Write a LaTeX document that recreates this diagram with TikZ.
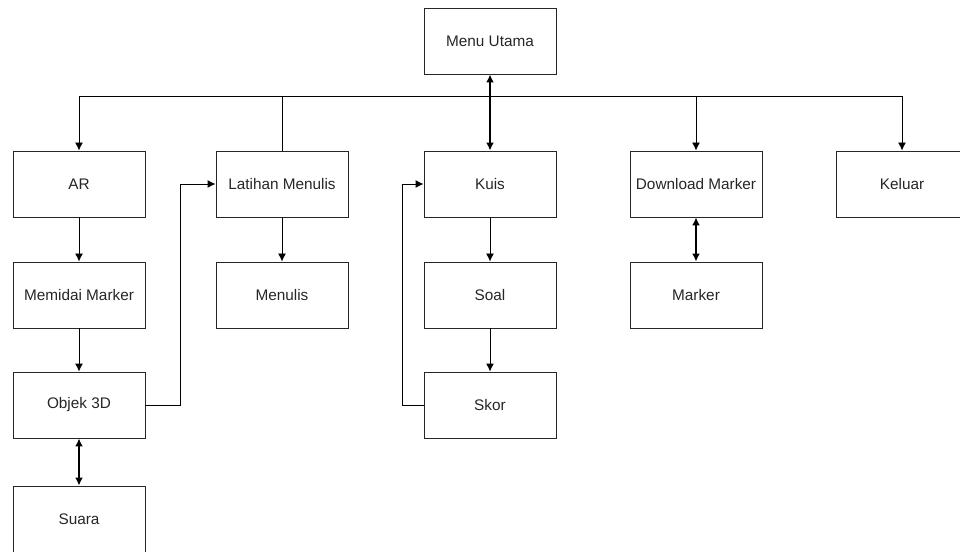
\documentclass[tikz,border=0pt]{standalone}
\usepackage{fontspec}
\setmainfont{Liberation Sans}
\usetikzlibrary{calc,arrows.meta}

\tikzset{
  blok/.style={draw=black!85, rectangle, minimum width=99pt, minimum height=49.5pt,
    inner sep=0pt, font=\fontsize{11.5}{13}\selectfont, text=black!85},
  dua/.style={<->, line width=1.3pt}
}

\begin{document}
\begin{tikzpicture}[>={Latex[length=6pt,width=6pt]}, x=0.75pt, y=-0.75pt, line width=0.7pt]
\useasboundingbox (0,0) rectangle (960,552);

\node[blok] (menu) at (490,41) {Menu Utama};

\node[blok] (ar) at (79,184) {AR};
\node[blok] (lat) at (282,184) {Latihan Menulis};
\node[blok] (kuis) at (490,184) {Kuis};
\node[blok] (dl) at (696,184) {Download Marker};
\node[blok] (kel) at (902,184) {Keluar};

\node[blok] (mem) at (79,295) {Memidai Marker};
\node[blok] (tulis) at (282,295) {Menulis};
\node[blok] (soal) at (490,295) {Soal};
\node[blok] (mark) at (696,295) {Marker};

\node[blok] (obj) at (79,405) {Objek 3D};
\node[blok] (skor) at (490,405) {Skor};

\node[blok] (suara) at (79,519) {Suara};

% jalur dari menu utama
\coordinate (bus) at (490,96);
\draw (ar.north |- bus) -- (kel.north |- bus);
\draw[->] (ar.north |- bus) -- (ar);
\draw (lat.north |- bus) -- (lat);
\draw[->] (dl.north |- bus) -- (dl);
\draw[->] (kel.north |- bus) -- (kel);
\draw[dua] (menu) -- (kuis);

\draw[->] (ar) -- (mem);
\draw[->] (mem) -- (obj);
\draw[dua] (obj) -- (suara);
\draw[->] (lat) -- (tulis);
\draw[->] (kuis) -- (soal);
\draw[->] (soal) -- (skor);
\draw[dua] (dl) -- (mark);

% balik ke atas
\coordinate (belokA) at (180,405);
\coordinate (belokB) at (402,405);
\draw[->] (obj.east) -- (belokA) |- (lat.west);
\draw[->] (skor.west) -- (belokB) |- (kuis.west);

\end{tikzpicture}
\end{document}
